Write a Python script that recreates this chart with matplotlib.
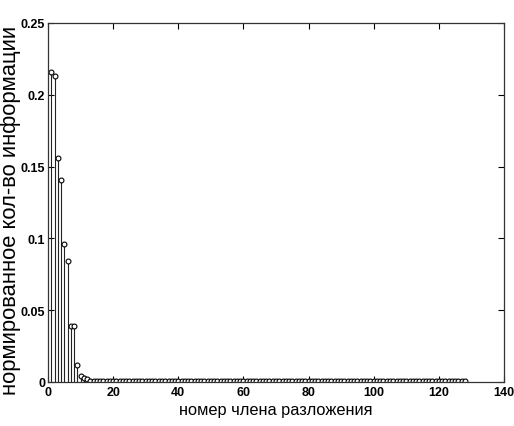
import numpy as np
import matplotlib
matplotlib.use("Agg")
import matplotlib.pyplot as plt

# --- data ---
head_values = [0.216, 0.213, 0.156, 0.141, 0.096, 0.084, 0.039, 0.039,
               0.012, 0.0045, 0.0028, 0.0018]
tail_values = [
    0.0010, 0.0009, 0.0009, 0.0008, 0.0008, 0.0008, 0.0008, 0.0008, 0.0008, 0.0008,
    0.0008, 0.0008, 0.0008, 0.0008, 0.0008, 0.0008, 0.0008, 0.0008, 0.0008, 0.0008,
    0.0008, 0.0008, 0.0008, 0.0008, 0.0008, 0.0008, 0.0008, 0.0008, 0.0007, 0.0006,
    0.0005, 0.0004, 0.0004, 0.0004, 0.0004, 0.0004, 0.0004, 0.0004, 0.0004, 0.0004,
    0.0004, 0.0004, 0.0004, 0.0004, 0.0004, 0.0004, 0.0004, 0.0004, 0.0004, 0.0004,
    0.0004, 0.0004, 0.0004, 0.0004, 0.0004, 0.0004, 0.0004, 0.0004, 0.0004, 0.0004,
    0.0004, 0.0004, 0.0004, 0.0004, 0.0004, 0.0004, 0.0004, 0.0004, 0.0004, 0.0004,
    0.0004, 0.0004, 0.0004, 0.0004, 0.0004, 0.0004, 0.0004, 0.0004, 0.0004, 0.0004,
    0.0004, 0.0004, 0.0004, 0.0004, 0.0004, 0.0004, 0.0004, 0.0004, 0.0004, 0.0004,
    0.0004, 0.0004, 0.0004, 0.0004, 0.0004, 0.0004, 0.0004, 0.0004, 0.0004, 0.0004,
    0.0004, 0.0004, 0.0004, 0.0004, 0.0004, 0.0004, 0.0004, 0.0004, 0.0004, 0.0004,
    0.0004, 0.0004, 0.0004, 0.0004, 0.0004, 0.0004,
]
values = head_values + tail_values
term_numbers = list(range(1, len(values) + 1))

x_ticks = [0, 20, 40, 60, 80, 100, 120, 140]
y_ticks = [0, 0.05, 0.1, 0.15, 0.2, 0.25]
y_tick_labels = ["0", "0.05", "0.1", "0.15", "0.2", "0.25"]
x_label = "номер члена разложения"
y_label = "нормированное кол-во информации"

plt.rcParams['font.family'] = ['Liberation Sans', 'DejaVu Sans']

fig = plt.figure(figsize=(5.14, 4.27), dpi=100)
ax = fig.add_axes([48 / 514, 1 - 383 / 427, (504 - 48) / 514, (383 - 24) / 427])

markerline, stemlines, baseline = ax.stem(term_numbers, values, basefmt=" ")
plt.setp(stemlines, color="#222222", linewidth=0.8)
plt.setp(markerline, marker="o", markersize=3.5, markerfacecolor="white",
         markeredgecolor="black", markeredgewidth=0.8)

ax.set_xlim(0, 140)
ax.set_ylim(0, 0.25)
ax.set_xticks(x_ticks)
ax.set_yticks(y_ticks)
ax.set_yticklabels(y_tick_labels)
ax.tick_params(direction="in", top=True, right=True, length=4, width=0.8,
               labelsize=9, pad=2)
ax.tick_params(axis="x", pad=3)
for lbl in ax.get_xticklabels() + ax.get_yticklabels():
    lbl.set_fontweight("bold")
for sp in ax.spines.values():
    sp.set_linewidth(0.9)
    sp.set_color("#333333")

ax.set_xlabel(x_label, fontsize=11.8, labelpad=3)
ax.set_ylabel(y_label, fontsize=15.8)
ax.yaxis.set_label_coords(-0.06, 0.48)

fig.savefig("out.png", dpi=100)
